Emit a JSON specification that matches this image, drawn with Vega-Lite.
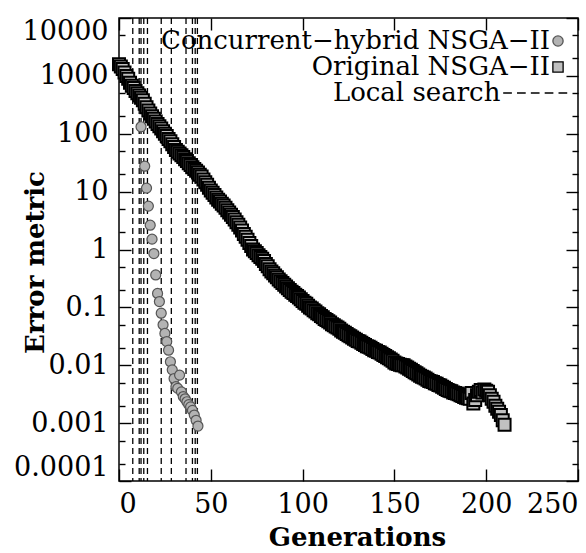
{
  "$schema": "https://vega.github.io/schema/vega-lite/v6.json",
  "width": 459,
  "height": 463,
  "autosize": "none",
  "padding": {"left": 119, "top": 18, "right": 8, "bottom": 72},
  "background": "white",
  "config": {
    "font": "DejaVu Serif",
    "view": {"stroke": "black", "strokeWidth": 1.5},
    "axis": {
      "grid": false,
      "domain": false,
      "labelFont": "DejaVu Serif",
      "labelFontSize": 27,
      "labelColor": "black",
      "tickColor": "black",
      "tickWidth": 1.4,
      "titleFont": "DejaVu Serif",
      "titleFontSize": 26,
      "titleFontWeight": "bold",
      "titleColor": "black"
    }
  },
  "datasets": {
    "local": [
      {"gen": 7.5}, {"gen": 11}, {"gen": 12}, {"gen": 13.5}, {"gen": 15.5}, {"gen": 23}, {"gen": 28.5}, {"gen": 36.5}, {"gen": 40}, {"gen": 41.5}, {"gen": 42.7}
    ],
    "hybrid": [
      {"gen": 0, "err": 1585, "series": "Concurrent−hybrid NSGA−II"},
      {"gen": 1, "err": 1445, "series": "Concurrent−hybrid NSGA−II"},
      {"gen": 2, "err": 1318, "series": "Concurrent−hybrid NSGA−II"},
      {"gen": 3, "err": 1148, "series": "Concurrent−hybrid NSGA−II"},
      {"gen": 4, "err": 1000, "series": "Concurrent−hybrid NSGA−II"},
      {"gen": 5, "err": 891, "series": "Concurrent−hybrid NSGA−II"},
      {"gen": 6, "err": 759, "series": "Concurrent−hybrid NSGA−II"},
      {"gen": 7, "err": 676, "series": "Concurrent−hybrid NSGA−II"},
      {"gen": 8, "err": 617, "series": "Concurrent−hybrid NSGA−II"},
      {"gen": 9, "err": 550, "series": "Concurrent−hybrid NSGA−II"},
      {"gen": 10, "err": 501, "series": "Concurrent−hybrid NSGA−II"},
      {"gen": 11, "err": 457, "series": "Concurrent−hybrid NSGA−II"},
      {"gen": 12, "err": 132, "series": "Concurrent−hybrid NSGA−II"},
      {"gen": 14, "err": 27.5, "series": "Concurrent−hybrid NSGA−II"},
      {"gen": 15, "err": 11.5, "series": "Concurrent−hybrid NSGA−II"},
      {"gen": 16, "err": 5.62, "series": "Concurrent−hybrid NSGA−II"},
      {"gen": 17, "err": 2.63, "series": "Concurrent−hybrid NSGA−II"},
      {"gen": 18, "err": 1.51, "series": "Concurrent−hybrid NSGA−II"},
      {"gen": 19, "err": 0.851, "series": "Concurrent−hybrid NSGA−II"},
      {"gen": 20, "err": 0.363, "series": "Concurrent−hybrid NSGA−II"},
      {"gen": 21, "err": 0.174, "series": "Concurrent−hybrid NSGA−II"},
      {"gen": 22, "err": 0.126, "series": "Concurrent−hybrid NSGA−II"},
      {"gen": 23, "err": 0.0794, "series": "Concurrent−hybrid NSGA−II"},
      {"gen": 24, "err": 0.0501, "series": "Concurrent−hybrid NSGA−II"},
      {"gen": 25, "err": 0.0355, "series": "Concurrent−hybrid NSGA−II"},
      {"gen": 26, "err": 0.0257, "series": "Concurrent−hybrid NSGA−II"},
      {"gen": 27, "err": 0.0182, "series": "Concurrent−hybrid NSGA−II"},
      {"gen": 28, "err": 0.0115, "series": "Concurrent−hybrid NSGA−II"},
      {"gen": 29, "err": 0.00832, "series": "Concurrent−hybrid NSGA−II"},
      {"gen": 30, "err": 0.00589, "series": "Concurrent−hybrid NSGA−II"},
      {"gen": 31, "err": 0.00427, "series": "Concurrent−hybrid NSGA−II"},
      {"gen": 32, "err": 0.00398, "series": "Concurrent−hybrid NSGA−II"},
      {"gen": 33, "err": 0.00676, "series": "Concurrent−hybrid NSGA−II"},
      {"gen": 34, "err": 0.00347, "series": "Concurrent−hybrid NSGA−II"},
      {"gen": 35, "err": 0.00288, "series": "Concurrent−hybrid NSGA−II"},
      {"gen": 36, "err": 0.00263, "series": "Concurrent−hybrid NSGA−II"},
      {"gen": 37, "err": 0.00234, "series": "Concurrent−hybrid NSGA−II"},
      {"gen": 38, "err": 0.00209, "series": "Concurrent−hybrid NSGA−II"},
      {"gen": 39, "err": 0.00191, "series": "Concurrent−hybrid NSGA−II"},
      {"gen": 40, "err": 0.00166, "series": "Concurrent−hybrid NSGA−II"},
      {"gen": 41, "err": 0.00138, "series": "Concurrent−hybrid NSGA−II"},
      {"gen": 42, "err": 0.00112, "series": "Concurrent−hybrid NSGA−II"},
      {"gen": 43, "err": 0.000891, "series": "Concurrent−hybrid NSGA−II"}
    ],
    "original": [
      {"gen": 0, "err": 1585}, {"gen": 1, "err": 1445}, {"gen": 2, "err": 1318}, {"gen": 3, "err": 1148}, {"gen": 4, "err": 1000},
      {"gen": 5, "err": 891}, {"gen": 6, "err": 759}, {"gen": 7, "err": 676}, {"gen": 8, "err": 617}, {"gen": 9, "err": 550},
      {"gen": 10, "err": 501}, {"gen": 11, "err": 457}, {"gen": 12, "err": 417}, {"gen": 13, "err": 380}, {"gen": 14, "err": 331},
      {"gen": 15, "err": 288}, {"gen": 16, "err": 251}, {"gen": 17, "err": 224}, {"gen": 18, "err": 200}, {"gen": 19, "err": 182},
      {"gen": 20, "err": 162}, {"gen": 21, "err": 148}, {"gen": 22, "err": 135}, {"gen": 23, "err": 123}, {"gen": 24, "err": 110},
      {"gen": 25, "err": 100}, {"gen": 26, "err": 91.2}, {"gen": 27, "err": 81.3}, {"gen": 28, "err": 74.1}, {"gen": 29, "err": 66.1},
      {"gen": 30, "err": 58.9}, {"gen": 31, "err": 52.5}, {"gen": 32, "err": 49.0}, {"gen": 33, "err": 45.7}, {"gen": 34, "err": 42.7},
      {"gen": 35, "err": 39.8}, {"gen": 36, "err": 36.3}, {"gen": 37, "err": 33.9}, {"gen": 38, "err": 30.9}, {"gen": 39, "err": 28.8},
      {"gen": 40, "err": 26.3}, {"gen": 41, "err": 24.5}, {"gen": 42, "err": 22.9}, {"gen": 43, "err": 21.4}, {"gen": 44, "err": 19.5},
      {"gen": 45, "err": 18.2}, {"gen": 46, "err": 16.2}, {"gen": 47, "err": 14.5}, {"gen": 48, "err": 13.2}, {"gen": 49, "err": 11.7},
      {"gen": 50, "err": 10.5}, {"gen": 51, "err": 9.55}, {"gen": 52, "err": 8.71}, {"gen": 53, "err": 7.94}, {"gen": 54, "err": 7.24},
      {"gen": 55, "err": 6.76}, {"gen": 56, "err": 6.17}, {"gen": 57, "err": 5.75}, {"gen": 58, "err": 5.25}, {"gen": 59, "err": 4.79},
      {"gen": 60, "err": 4.37}, {"gen": 61, "err": 3.98}, {"gen": 62, "err": 3.63}, {"gen": 63, "err": 3.31}, {"gen": 64, "err": 2.95},
      {"gen": 65, "err": 2.69}, {"gen": 66, "err": 2.40}, {"gen": 67, "err": 2.14}, {"gen": 68, "err": 1.86}, {"gen": 69, "err": 1.66},
      {"gen": 70, "err": 1.48}, {"gen": 71, "err": 1.29}, {"gen": 72, "err": 1.15}, {"gen": 73, "err": 1.00}, {"gen": 74, "err": 0.933},
      {"gen": 75, "err": 0.871}, {"gen": 76, "err": 0.794}, {"gen": 77, "err": 0.741}, {"gen": 78, "err": 0.692}, {"gen": 79, "err": 0.631},
      {"gen": 80, "err": 0.562}, {"gen": 81, "err": 0.513}, {"gen": 82, "err": 0.457}, {"gen": 83, "err": 0.417}, {"gen": 84, "err": 0.389},
      {"gen": 85, "err": 0.355}, {"gen": 86, "err": 0.331}, {"gen": 87, "err": 0.302}, {"gen": 88, "err": 0.282}, {"gen": 89, "err": 0.263},
      {"gen": 90, "err": 0.245}, {"gen": 91, "err": 0.229}, {"gen": 92, "err": 0.214}, {"gen": 93, "err": 0.200}, {"gen": 94, "err": 0.186},
      {"gen": 95, "err": 0.178}, {"gen": 96, "err": 0.166}, {"gen": 97, "err": 0.158}, {"gen": 98, "err": 0.148}, {"gen": 99, "err": 0.138},
      {"gen": 100, "err": 0.129}, {"gen": 101, "err": 0.120}, {"gen": 102, "err": 0.115}, {"gen": 103, "err": 0.107}, {"gen": 104, "err": 0.100},
      {"gen": 105, "err": 0.0955}, {"gen": 106, "err": 0.0891}, {"gen": 107, "err": 0.0851}, {"gen": 108, "err": 0.0794}, {"gen": 109, "err": 0.0759},
      {"gen": 110, "err": 0.0708}, {"gen": 111, "err": 0.0676}, {"gen": 112, "err": 0.0631}, {"gen": 113, "err": 0.0603}, {"gen": 114, "err": 0.0575},
      {"gen": 115, "err": 0.0550}, {"gen": 116, "err": 0.0513}, {"gen": 117, "err": 0.0490}, {"gen": 118, "err": 0.0468}, {"gen": 119, "err": 0.0447},
      {"gen": 120, "err": 0.0427}, {"gen": 121, "err": 0.0398}, {"gen": 122, "err": 0.0380}, {"gen": 123, "err": 0.0363}, {"gen": 124, "err": 0.0347},
      {"gen": 125, "err": 0.0331}, {"gen": 126, "err": 0.0316}, {"gen": 127, "err": 0.0302}, {"gen": 128, "err": 0.0288}, {"gen": 129, "err": 0.0275},
      {"gen": 130, "err": 0.0263}, {"gen": 131, "err": 0.0257}, {"gen": 132, "err": 0.0245}, {"gen": 133, "err": 0.0234}, {"gen": 134, "err": 0.0224},
      {"gen": 135, "err": 0.0214}, {"gen": 136, "err": 0.0209}, {"gen": 137, "err": 0.0200}, {"gen": 138, "err": 0.0191}, {"gen": 139, "err": 0.0182},
      {"gen": 140, "err": 0.0178}, {"gen": 141, "err": 0.0170}, {"gen": 142, "err": 0.0166}, {"gen": 143, "err": 0.0158}, {"gen": 144, "err": 0.0151},
      {"gen": 145, "err": 0.0145}, {"gen": 146, "err": 0.0138}, {"gen": 147, "err": 0.0132}, {"gen": 148, "err": 0.0126}, {"gen": 149, "err": 0.0120},
      {"gen": 150, "err": 0.0112}, {"gen": 151, "err": 0.0107}, {"gen": 152, "err": 0.0105}, {"gen": 153, "err": 0.0102}, {"gen": 154, "err": 0.0100},
      {"gen": 155, "err": 0.0100}, {"gen": 156, "err": 0.00955}, {"gen": 157, "err": 0.00912}, {"gen": 158, "err": 0.00871}, {"gen": 159, "err": 0.00832},
      {"gen": 160, "err": 0.00794}, {"gen": 161, "err": 0.00759}, {"gen": 162, "err": 0.00724}, {"gen": 163, "err": 0.00692}, {"gen": 164, "err": 0.00661},
      {"gen": 165, "err": 0.00631}, {"gen": 166, "err": 0.00617}, {"gen": 167, "err": 0.00589}, {"gen": 168, "err": 0.00562}, {"gen": 169, "err": 0.00537},
      {"gen": 170, "err": 0.00525}, {"gen": 171, "err": 0.00513}, {"gen": 172, "err": 0.00490}, {"gen": 173, "err": 0.00479}, {"gen": 174, "err": 0.00457},
      {"gen": 175, "err": 0.00447}, {"gen": 176, "err": 0.00427}, {"gen": 177, "err": 0.00407}, {"gen": 178, "err": 0.00389}, {"gen": 179, "err": 0.00372},
      {"gen": 180, "err": 0.00363}, {"gen": 181, "err": 0.00355}, {"gen": 182, "err": 0.00339}, {"gen": 183, "err": 0.00331}, {"gen": 184, "err": 0.00324},
      {"gen": 185, "err": 0.00316}, {"gen": 186, "err": 0.00302}, {"gen": 187, "err": 0.00295}, {"gen": 188, "err": 0.00282}, {"gen": 189, "err": 0.00275},
      {"gen": 190, "err": 0.00269}, {"gen": 191, "err": 0.00263}, {"gen": 192, "err": 0.00331}, {"gen": 193, "err": 0.00219}, {"gen": 194, "err": 0.00251},
      {"gen": 195, "err": 0.00302}, {"gen": 196, "err": 0.00347}, {"gen": 197, "err": 0.00372}, {"gen": 198, "err": 0.00339}, {"gen": 199, "err": 0.00380},
      {"gen": 200, "err": 0.00363}, {"gen": 201, "err": 0.00347}, {"gen": 202, "err": 0.00302}, {"gen": 203, "err": 0.00263}, {"gen": 204, "err": 0.00234},
      {"gen": 205, "err": 0.00200}, {"gen": 206, "err": 0.00178}, {"gen": 207, "err": 0.00158}, {"gen": 208, "err": 0.00138}, {"gen": 209, "err": 0.00112},
      {"gen": 210, "err": 0.000933}
    ]
  },
  "layer": [
    {
      "data": {"name": "local"},
      "mark": {"type": "rule", "color": "black", "strokeWidth": 1.3, "strokeDash": [6, 4]},
      "encoding": {
        "x": {
          "field": "gen", "type": "quantitative",
          "scale": {"domain": [0, 250], "nice": false, "zero": false},
          "axis": {
            "orient": "bottom",
            "values": [0, 50, 100, 150, 200, 250],
            "offset": -12,
            "tickSize": 12,
            "labelPadding": 10,
            "labelFlush": true,
            "title": "Generations",
            "titleX": 238,
            "titleY": 68,
            "titleBaseline": "middle"
          }
        }
      }
    },
    {
      "data": {"name": "hybrid"},
      "mark": {"type": "point", "shape": "circle", "filled": true, "size": 100, "strokeWidth": 1.2, "opacity": 1},
      "encoding": {
        "x": {
          "field": "gen", "type": "quantitative",
          "axis": {"orient": "top", "values": [0, 50, 100, 150, 200, 250], "offset": -12, "tickSize": 12, "labels": false, "title": null}
        },
        "y": {
          "field": "err", "type": "quantitative",
          "scale": {"type": "log", "domain": [0.0001, 10000], "nice": false},
          "axis": {
            "orient": "left",
            "values": [0.0001, 0.001, 0.01, 0.1, 1, 10, 100, 1000, 10000],
            "labelExpr": "format(datum.value, '~f')",
            "labelOverlap": false,
            "labelFlush": true,
            "offset": -12,
            "tickSize": 12,
            "labelPadding": 11,
            "title": "Error metric",
            "titleX": -83,
            "titleY": 244
          }
        },
        "shape": {
          "field": "series", "type": "nominal",
          "scale": {
            "domain": ["Concurrent−hybrid NSGA−II", "Original NSGA−II", "Local search"],
            "range": ["circle", "square", "M-10.7,0H-9M-8,0H-6.3M-5.3,0H-3.6M-2.6,0H-0.9M0.1,0H1.8"]
          },
          "legend": {
            "orient": "none",
            "legendX": 426,
            "legendY": 10,
            "title": null,
            "labelFont": "DejaVu Serif",
            "labelFontSize": 26,
            "labelColor": "black",
            "labelAlign": "right",
            "labelOffset": -21,
            "labelLimit": 0,
            "rowPadding": 0,
            "symbolSize": 105,
            "symbolStrokeWidth": 1.3,
            "labelExpr": "datum.label == 'Local search' ? 'Local search\u00a0\u00a0\u00a0\u00a0\u00a0\u00a0\u200b' : datum.label"
          }
        },
        "fill": {
          "field": "series", "type": "nominal",
          "scale": {
            "domain": ["Concurrent−hybrid NSGA−II", "Original NSGA−II", "Local search"],
            "range": ["#b3b3b3", "#c0c0c0", "transparent"]
          },
          "legend": null
        },
        "stroke": {
          "field": "series", "type": "nominal",
          "scale": {
            "domain": ["Concurrent−hybrid NSGA−II", "Original NSGA−II", "Local search"],
            "range": ["#555555", "#000000", "#000000"]
          },
          "legend": null
        }
      }
    },
    {
      "data": {"name": "original"},
      "transform": [{"calculate": "'Original NSGA−II'", "as": "series"}],
      "mark": {"type": "point", "shape": "square", "filled": true, "size": 144, "strokeWidth": 2, "opacity": 1},
      "encoding": {
        "x": {"field": "gen", "type": "quantitative", "axis": null},
        "y": {
          "field": "err", "type": "quantitative",
          "axis": {
            "orient": "right",
            "values": [0.0001, 0.001, 0.01, 0.1, 1, 10, 100, 1000, 10000],
            "labels": false,
            "title": null,
            "offset": -12,
            "tickSize": 12
          }
        },
        "shape": {"field": "series", "type": "nominal"},
        "fill": {"field": "series", "type": "nominal"},
        "stroke": {"field": "series", "type": "nominal"}
      }
    },
    {
      "data": {"name": "hybrid"},
      "mark": {"type": "point", "opacity": 0},
      "encoding": {
        "x": {"field": "gen", "type": "quantitative", "axis": null},
        "y": {
          "field": "err", "type": "quantitative",
          "axis": {
            "orient": "left",
            "values": [0.0002, 0.0005, 0.002, 0.005, 0.02, 0.05, 0.2, 0.5, 2, 5, 20, 50, 200, 500, 2000, 5000],
            "labels": false,
            "title": null,
            "offset": -6,
            "tickSize": 6
          }
        }
      }
    },
    {
      "data": {"name": "hybrid"},
      "mark": {"type": "point", "opacity": 0},
      "encoding": {
        "x": {"field": "gen", "type": "quantitative", "axis": null},
        "y": {
          "field": "err", "type": "quantitative",
          "axis": {
            "orient": "right",
            "values": [0.0002, 0.0005, 0.002, 0.005, 0.02, 0.05, 0.2, 0.5, 2, 5, 20, 50, 200, 500, 2000, 5000],
            "labels": false,
            "title": null,
            "offset": -6,
            "tickSize": 6
          }
        }
      }
    }
  ],
  "resolve": {"axis": {"x": "independent", "y": "independent"}}
}
